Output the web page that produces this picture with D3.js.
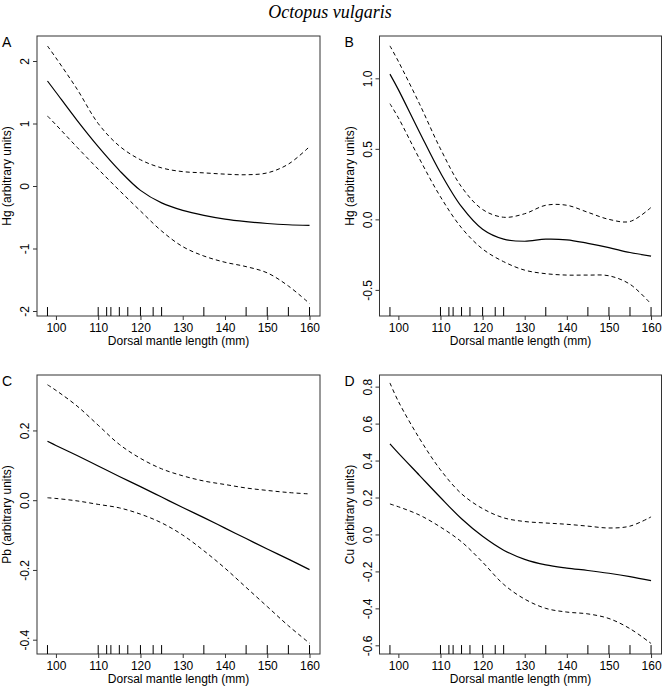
<!DOCTYPE html>
<html>
<head>
<meta charset="utf-8">
<script src="https://cdn.jsdelivr.net/npm/d3@7"></script>
<style>
  html, body { margin: 0; padding: 0; background: #fff; }
  svg { display: block; }
  text { font-family: "Liberation Sans", Arial, sans-serif; fill: #000; }
</style>
</head>
<body>
<svg id="chart" width="662" height="686"></svg>
<script>
// ---------------- data ----------------
const title = "Octopus vulgaris";
const xLabel = "Dorsal mantle length (mm)";
const xTicks = [100, 110, 120, 130, 140, 150, 160];
const rugX = [98, 110, 112, 113, 115, 117, 120, 123, 125, 135, 145, 150, 155, 160];
const gridX = [98, 100, 105, 110, 115, 120, 125, 130, 135, 140, 145, 150, 155, 160];

// Panel A: Hg
const hgAFit   = [1.68, 1.50, 1.05, 0.63, 0.25, -0.07, -0.27, -0.39, -0.47, -0.53, -0.57, -0.60, -0.62, -0.63];
const hgAUpper = [2.24, 2.05, 1.55, 1.00, 0.64, 0.42, 0.29, 0.23, 0.21, 0.19, 0.18, 0.21, 0.35, 0.63];
const hgALower = [1.12, 0.98, 0.62, 0.27, -0.07, -0.40, -0.72, -0.97, -1.12, -1.22, -1.29, -1.39, -1.60, -1.88];
const hgATicks = [-2, -1, 0, 1, 2];

// Panel B: Hg
const hgBFit   = [1.03, 0.92, 0.62, 0.33, 0.09, -0.07, -0.14, -0.155, -0.14, -0.145, -0.17, -0.20, -0.235, -0.26];
const hgBUpper = [1.23, 1.12, 0.82, 0.50, 0.23, 0.07, 0.015, 0.04, 0.10, 0.10, 0.05, 0.0, -0.015, 0.085];
const hgBLower = [0.82, 0.72, 0.43, 0.16, -0.06, -0.21, -0.30, -0.36, -0.385, -0.395, -0.395, -0.40, -0.46, -0.60];
const hgBTicks = [-0.5, 0.0, 0.5, 1.0];

// Panel C: Pb
const pbFit   = [0.169, 0.157, 0.128, 0.098, 0.068, 0.039, 0.009, -0.021, -0.050, -0.080, -0.110, -0.140, -0.169, -0.199];
const pbUpper = [0.331, 0.315, 0.270, 0.215, 0.160, 0.120, 0.090, 0.070, 0.055, 0.045, 0.035, 0.028, 0.022, 0.018];
const pbLower = [0.007, 0.005, -0.002, -0.012, -0.022, -0.040, -0.065, -0.100, -0.145, -0.195, -0.250, -0.305, -0.360, -0.410];
const pbTicks = [-0.4, -0.2, 0.0, 0.2];

// Panel D: Cu
const cuFit   = [0.49, 0.44, 0.32, 0.20, 0.085, -0.01, -0.085, -0.135, -0.165, -0.182, -0.195, -0.21, -0.228, -0.25];
const cuUpper = [0.82, 0.72, 0.52, 0.35, 0.22, 0.14, 0.09, 0.07, 0.062, 0.055, 0.045, 0.035, 0.045, 0.095];
const cuLower = [0.165, 0.15, 0.105, 0.04, -0.04, -0.15, -0.27, -0.35, -0.40, -0.42, -0.43, -0.455, -0.51, -0.59];
const cuTicks = [-0.6, -0.4, -0.2, 0.0, 0.2, 0.4, 0.6, 0.8];

// ---------------- layout ----------------
const panels = [
  { letter: "A", yLabel: "Hg (arbitrary units)", fit: hgAFit, upper: hgAUpper, lower: hgALower, ticks: hgATicks, fmt: d3.format("d"),
    box: { x0: 37, x1: 320, y0: 36, y1: 316 }, yDomain: [-2.08, 2.40] },
  { letter: "B", yLabel: "Hg (arbitrary units)", fit: hgBFit, upper: hgBUpper, lower: hgBLower, ticks: hgBTicks, fmt: d3.format(".1f"),
    box: { x0: 379.5, x1: 661.5, y0: 36, y1: 316 }, yDomain: [-0.685, 1.30] },
  { letter: "C", yLabel: "Pb (arbitrary units)", fit: pbFit, upper: pbUpper, lower: pbLower, ticks: pbTicks, fmt: d3.format(".1f"),
    box: { x0: 37, x1: 320, y0: 375, y1: 654 }, yDomain: [-0.441, 0.359] },
  { letter: "D", yLabel: "Cu (arbitrary units)", fit: cuFit, upper: cuUpper, lower: cuLower, ticks: cuTicks, fmt: d3.format(".1f"),
    box: { x0: 379.5, x1: 661.5, y0: 375, y1: 654 }, yDomain: [-0.647, 0.863] }
];
const xDomain = [95.52, 162.48];

const svg = d3.select("#chart");

svg.append("text")
  .attr("x", 330).attr("y", 18)
  .attr("text-anchor", "middle")
  .style("font-family", '"Liberation Serif", "Times New Roman", serif')
  .style("font-style", "italic")
  .style("font-size", "18px")
  .text(title);

const minus = s => s.replace("\u2212", "-");

panels.forEach(p => {
  const b = p.box;
  const x = d3.scaleLinear().domain(xDomain).range([b.x0, b.x1]);
  const y = d3.scaleLinear().domain(p.yDomain).range([b.y1, b.y0]);
  const g = svg.append("g");

  // box
  g.append("rect")
    .attr("x", b.x0).attr("y", b.y0)
    .attr("width", b.x1 - b.x0).attr("height", b.y1 - b.y0)
    .attr("fill", "none").attr("stroke", "#333").attr("stroke-width", 1);

  // x axis
  const xAxis = d3.axisBottom(x).tickValues(xTicks).tickSize(4).tickPadding(3).tickFormat(d3.format("d"));
  const gx = g.append("g").attr("transform", `translate(0,${b.y1})`).call(xAxis);
  gx.select(".domain").remove();
  gx.selectAll("line").attr("stroke", "#333");
  gx.selectAll("text").style("font-size", "12px").attr("fill", "#000");

  // y axis
  const yAxis = d3.axisLeft(y).tickValues(p.ticks).tickSize(4).tickFormat(d => minus(p.fmt(d)));
  const gy = g.append("g").attr("transform", `translate(${b.x0},0)`).call(yAxis);
  gy.select(".domain").remove();
  gy.selectAll("line").attr("stroke", "#333");
  gy.selectAll("text")
    .style("font-size", "12px").attr("fill", "#000")
    .attr("x", null).attr("dy", null)
    .attr("text-anchor", "middle")
    .attr("transform", "translate(-8,0) rotate(-90)")
    .attr("y", 0);

  // axis titles
  g.append("text")
    .attr("x", (b.x0 + b.x1) / 2).attr("y", b.y1 + 29)
    .attr("text-anchor", "middle").style("font-size", "12px")
    .text(xLabel);
  g.append("text")
    .attr("transform", `translate(${b.x0 - 26},${(b.y0 + b.y1) / 2}) rotate(-90)`)
    .attr("text-anchor", "middle").style("font-size", "12px")
    .text(p.yLabel);

  // panel letter
  g.append("text")
    .attr("x", b.x0 - 35).attr("y", b.y0 + 11)
    .style("font-size", "14px")
    .text(p.letter);

  // rug
  const rugLen = 0.032 * (b.y1 - b.y0);
  g.selectAll(".rug").data(rugX).enter().append("line")
    .attr("x1", d => x(d)).attr("x2", d => x(d))
    .attr("y1", b.y1).attr("y2", b.y1 - rugLen)
    .attr("stroke", "#000").attr("stroke-width", 1);

  // curves
  const line = d3.line().x((d, i) => x(gridX[i])).y(d => y(d)).curve(d3.curveCatmullRom.alpha(0.5));
  g.append("path").attr("d", line(p.upper)).attr("fill", "none").attr("stroke", "#000")
    .attr("stroke-width", 1).attr("stroke-dasharray", "4,3");
  g.append("path").attr("d", line(p.lower)).attr("fill", "none").attr("stroke", "#000")
    .attr("stroke-width", 1).attr("stroke-dasharray", "4,3");
  g.append("path").attr("d", line(p.fit)).attr("fill", "none").attr("stroke", "#000")
    .attr("stroke-width", 1.2);
});
</script>
</body>
</html>
